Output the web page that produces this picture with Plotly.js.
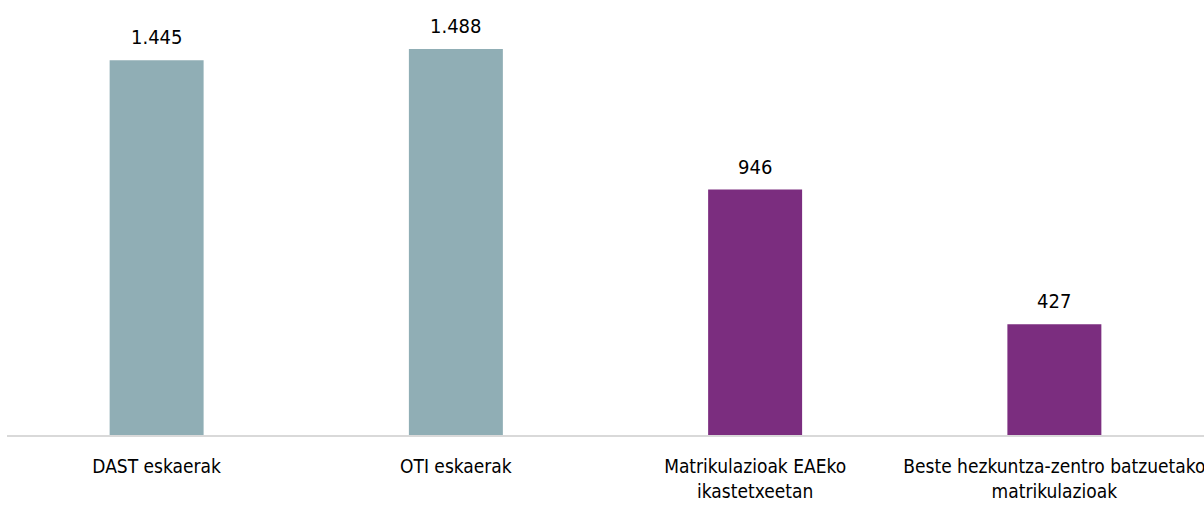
<!DOCTYPE html>
<html>
<head>
<meta charset="utf-8">
<script src="https://cdn.plot.ly/plotly-3.0.1.min.js"></script>
<style>html,body{margin:0;padding:0;background:#fff;}#chart{width:1204px;height:510px;}</style>
</head>
<body>
<div id="chart"></div>
<script>
const categories = ["DAST eskaerak", "OTI eskaerak", "Matrikulazioak EAEko<br>ikastetxeetan", "Beste hezkuntza-zentro batzuetako<br>matrikulazioak"];
const values = [1445, 1488, 946, 427];
const valueLabels = ["1.445", "1.488", "946", "427"];
const barColors = ["#90AEB5", "#90AEB5", "#7B2D7F", "#7B2D7F"];

const FONT = "'Liberation Sans Narrow', 'DejaVu Sans Condensed', 'Arial Narrow', sans-serif";

const trace = {
  type: "bar",
  x: categories,
  y: values,
  marker: {color: barColors},
  hoverinfo: "none"
};

const annotations = categories.map((c, i) => ({
  x: c, y: values[i], xref: "x", yref: "y",
  text: valueLabels[i], showarrow: false,
  yanchor: "bottom", yshift: 9,
  font: {family: FONT, size: 20, color: "#000"}
}));

const layout = {
  width: 1204, height: 510,
  margin: {l: 7, r: 0, t: 0, b: 75},
  paper_bgcolor: "#fff", plot_bgcolor: "#fff",
  showlegend: false,
  bargap: 0.686,
  font: {family: FONT, size: 19, color: "#000"},
  xaxis: {
    type: "category",
    showline: true, linecolor: "#D9D9D9", linewidth: 1.5,
    ticks: "", showgrid: false, zeroline: false,
    ticklabelstandoff: 14,
    tickfont: {family: FONT, size: 19, color: "#000"},
    fixedrange: true
  },
  yaxis: {
    range: [0, 1677],
    visible: false, showgrid: false, zeroline: false,
    fixedrange: true
  },
  annotations: annotations
};

Plotly.newPlot("chart", [trace], layout, {staticPlot: true, displayModeBar: false});
</script>
</body>
</html>
